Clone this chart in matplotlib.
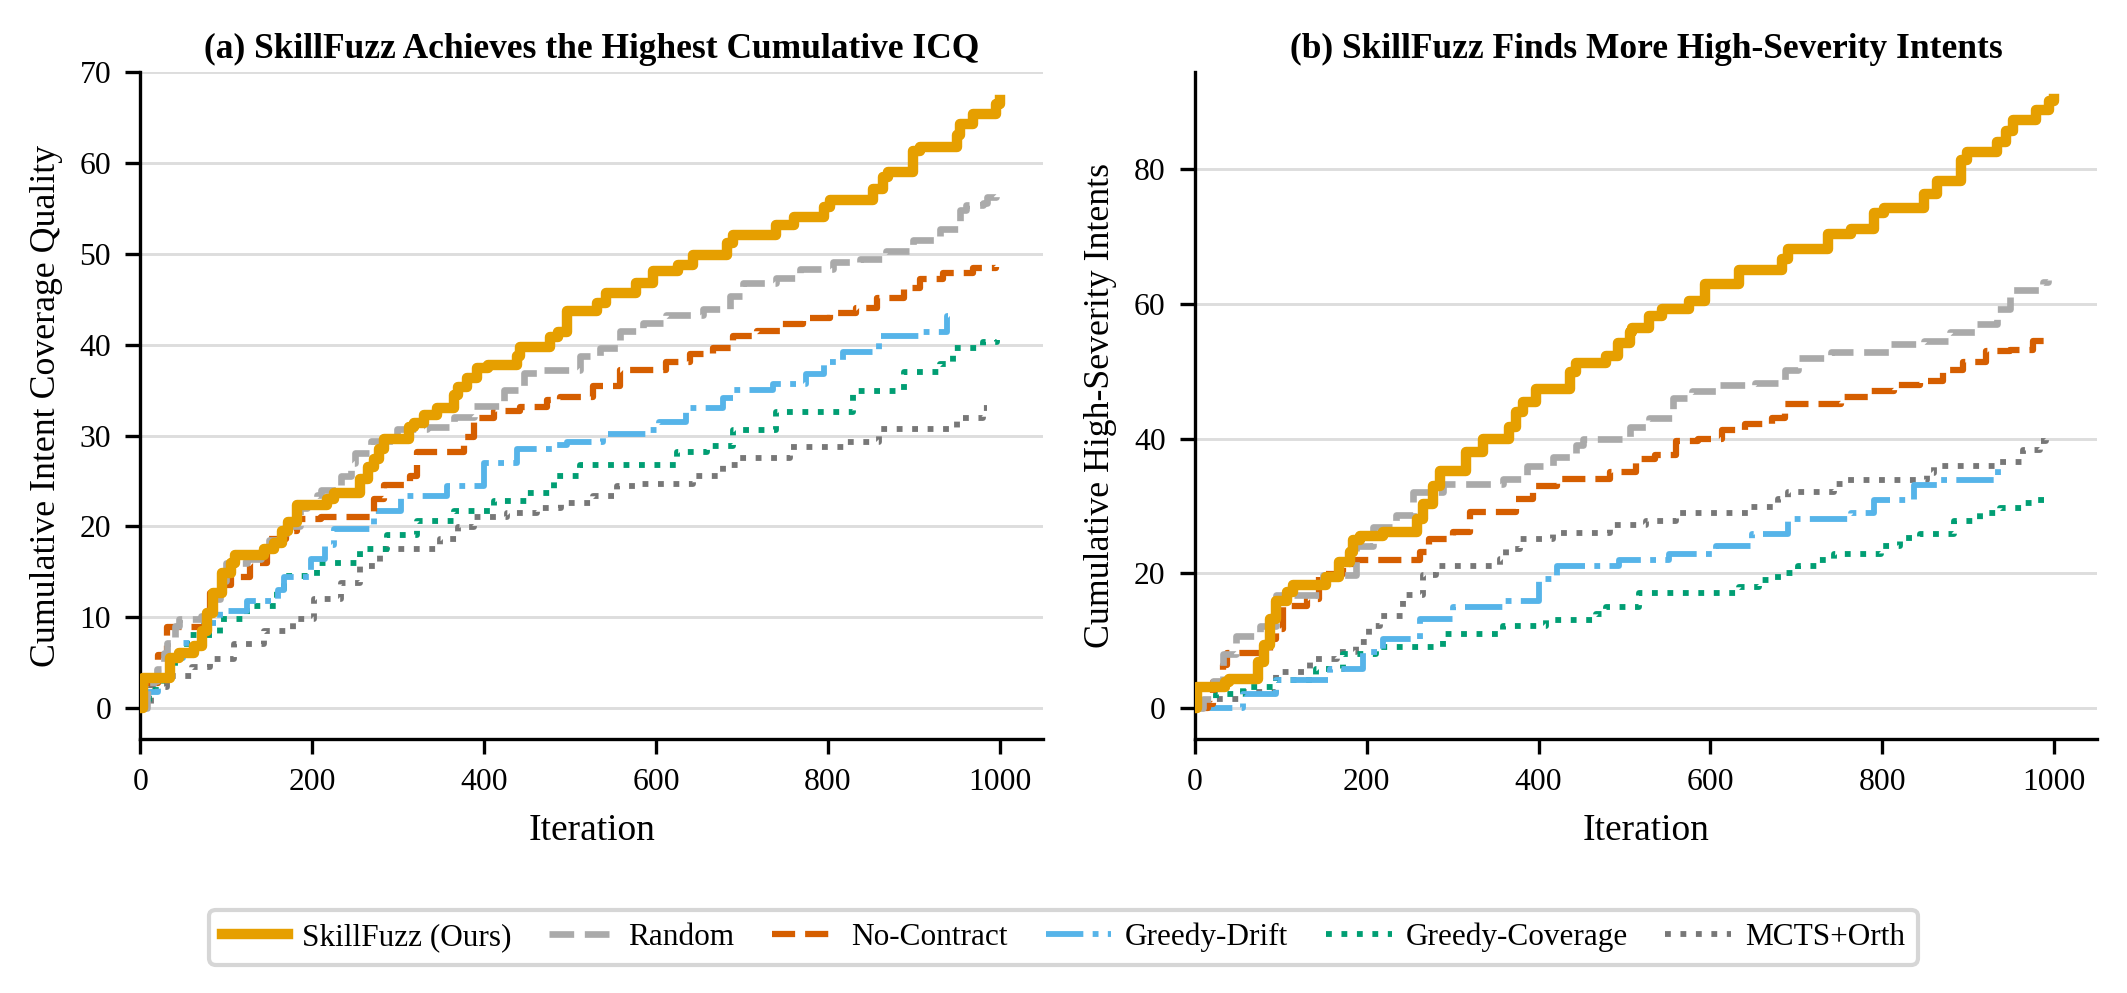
import numpy as np
import matplotlib
matplotlib.use('Agg')
import matplotlib.pyplot as plt

plt.rcParams['font.family'] = ['Liberation Serif', 'DejaVu Serif']

# ---- (a) cumulative ICQ, breakpoints (iteration, value) ----
sf_a_it = [0, 3, 35, 45, 62, 72, 78, 85, 95, 105, 110, 144, 155, 165, 172, 182, 217, 225, 256, 265, 272, 278, 283,
           312, 318, 330, 345, 365, 369, 380, 392, 405, 438, 442, 477, 486, 496, 531, 542, 577, 597, 625, 643, 682,
           690, 740, 760, 795, 802, 853, 864, 870, 899, 907, 950, 954, 969, 996, 1000]
sf_a = [0, 3.3, 5.5, 6.1, 6.8, 8.5, 10.5, 12.7, 14.9, 16.0, 16.8, 17.5, 18.2, 19.5, 20.5, 22.4, 23.0, 23.7, 25.2,
        26.5, 27.4, 28.5, 29.6, 31.0, 31.4, 32.3, 33.0, 34.5, 35.4, 36.3, 37.4, 37.8, 38.8, 39.8, 40.9, 41.4, 43.7,
        44.6, 45.7, 46.8, 48.1, 48.8, 49.9, 51.2, 52.1, 53.2, 54.1, 55.2, 55.9, 57.2, 58.5, 59.0, 61.4, 61.8, 63.1,
        64.3, 65.4, 66.5, 67.0]

rnd_a_it = [0, 8, 15, 19, 28, 31, 40, 45, 70, 78, 93, 100, 124, 140, 150, 170, 186, 194, 205, 210, 233, 245, 250,
            268, 299, 334, 365, 388, 423, 446, 470, 511, 535, 558, 585, 612, 655, 686, 701, 740, 767, 806, 837, 868,
            899, 930, 954, 961, 981, 985, 995]
rnd_a = [0, 1.5, 3.0, 4.3, 6.0, 7.2, 9.0, 9.8, 10.1, 12.0, 14.0, 16.0, 16.4, 17.5, 18.5, 20.0, 22.0, 22.5, 23.5,
         24.0, 25.5, 27.0, 28.1, 29.4, 30.7, 31.0, 32.0, 33.3, 35.0, 36.9, 37.2, 38.8, 39.7, 41.5, 42.4, 43.3, 43.9,
         45.4, 46.8, 47.4, 48.4, 49.1, 49.5, 50.3, 51.6, 52.8, 54.9, 55.4, 55.6, 56.3, 56.5]

nc_a_it = [0, 4, 21, 31, 75, 81, 95, 105, 128, 147, 170, 182, 210, 272, 283, 314, 322, 376, 388, 411, 442, 473, 488,
           527, 558, 612, 639, 666, 690, 717, 744, 771, 802, 833, 857, 888, 907, 934, 969, 995]
nc_a = [0, 2.8, 5.8, 8.9, 9.5, 12.7, 13.5, 14.4, 16.0, 18.6, 19.5, 20.8, 21.0, 23.0, 24.6, 25.5, 28.2, 29.9, 31.9,
        32.7, 33.2, 33.9, 34.2, 35.5, 37.2, 38.1, 39.0, 39.7, 41.0, 41.5, 42.3, 43.0, 43.5, 44.1, 45.2, 46.3, 47.2,
        47.9, 48.5, 48.6]

gd_a_it = [0, 5, 20, 35, 50, 74, 93, 124, 160, 167, 198, 215, 225, 272, 303, 357, 400, 438, 481, 496, 538, 593, 604,
           635, 678, 690, 736, 775, 795, 818, 860, 907, 938, 940]
gd_a = [0, 1.7, 3.5, 5.5, 7.2, 9.4, 10.7, 11.8, 13.0, 14.4, 16.4, 18.0, 19.7, 21.7, 23.3, 24.4, 27.0, 28.5, 29.0,
        29.3, 30.2, 30.6, 31.5, 33.0, 34.1, 35.0, 35.7, 36.8, 38.1, 39.2, 41.0, 41.4, 43.2, 43.2]

gc_a_it = [0, 10, 25, 40, 54, 93, 124, 159, 167, 206, 256, 287, 322, 365, 411, 450, 481, 511, 624, 659, 690, 740, 829,
           888, 930, 946, 981, 997]
gc_a = [0, 2.0, 4.0, 6.0, 8.0, 9.8, 11.2, 13.1, 14.5, 16.0, 17.5, 19.1, 20.6, 21.7, 22.8, 23.7, 25.5, 26.8, 28.2,
        28.9, 30.6, 32.6, 34.9, 37.0, 37.9, 39.7, 40.3, 40.5]

mc_a_it = [0, 12, 31, 60, 81, 109, 144, 178, 202, 233, 256, 279, 349, 369, 388, 427, 462, 489, 527, 554, 577, 643, 678,
           698, 756, 822, 860, 950, 981, 985]
mc_a = [0, 2.3, 3.5, 4.5, 5.4, 7.0, 8.5, 9.8, 12.0, 13.8, 15.6, 17.5, 18.6, 19.9, 21.0, 21.5, 22.0, 22.6, 23.4, 24.4,
        24.7, 25.5, 26.8, 27.5, 28.7, 29.3, 30.7, 31.9, 33.0, 33.0]

# ---- (b) cumulative high-severity intents ----
sf_b_it = [0, 2, 35, 40, 74, 80, 87, 95, 107, 114, 153, 168, 180, 184, 192, 219, 258, 266, 277, 285, 316, 335, 366,
           374, 382, 397, 436, 444, 479, 492, 506, 509, 529, 544, 575, 594, 633, 683, 690, 737, 764, 790, 802, 848,
           864, 891, 898, 933, 944, 952, 979, 994, 1000]
sf_b = [0, 3.1, 3.8, 4.3, 6.8, 9.3, 13.2, 15.9, 17.2, 18.2, 19.4, 21.6, 23.1, 24.9, 25.6, 26.1, 28.1, 30.3, 33.0,
        35.2, 38.0, 40.0, 41.7, 43.9, 45.4, 47.4, 49.9, 51.3, 52.3, 54.2, 55.9, 56.5, 58.2, 59.3, 60.4, 63.0, 65.1,
        66.7, 68.1, 70.4, 71.2, 73.5, 74.3, 76.3, 78.3, 81.4, 82.6, 84.0, 85.7, 87.4, 88.8, 90.2, 90.5]

rnd_b_it = [0, 10, 21, 33, 48, 76, 95, 149, 188, 207, 234, 254, 289, 358, 386, 417, 444, 452, 506, 529, 556, 579, 610,
            652, 687, 702, 740, 810, 848, 879, 910, 933, 948, 987, 993]
rnd_b = [0, 1.3, 4.0, 8.0, 10.7, 12.2, 16.7, 19.7, 24.0, 26.8, 28.6, 32.0, 33.2, 34.0, 36.0, 37.2, 39.0, 40.0, 41.7,
         43.1, 46.0, 47.1, 48.0, 48.2, 50.2, 52.0, 52.9, 54.1, 54.5, 55.9, 57.1, 59.3, 62.1, 63.3, 63.5]

nc_b_it = [0, 15, 21, 33, 37, 87, 95, 103, 130, 145, 172, 188, 262, 273, 300, 320, 374, 393, 421, 483, 513, 536, 560,
           586, 613, 640, 671, 687, 752, 783, 814, 844, 871, 894, 921, 948, 975, 990]
nc_b = [0, 0.6, 3.8, 6.3, 8.2, 10.2, 11.7, 15.2, 16.2, 19.9, 21.4, 22.0, 23.1, 25.1, 26.1, 29.1, 31.0, 33.0, 34.0,
        35.1, 36.9, 37.5, 39.7, 40.0, 41.3, 42.2, 43.1, 45.1, 46.2, 47.1, 48.0, 48.5, 50.2, 51.4, 53.0, 53.2, 54.5,
        54.6]

gd_b_it = [0, 56, 95, 157, 196, 219, 262, 300, 358, 401, 421, 494, 552, 606, 648, 690, 764, 790, 837, 864, 935, 938]
gd_b = [0, 2.1, 4.1, 5.8, 8.3, 10.2, 13.2, 15.0, 15.9, 19.2, 21.0, 22.0, 22.9, 24.0, 25.8, 28.0, 29.0, 30.9, 33.1,
        33.9, 36.3, 36.3]

gc_b_it = [0, 10, 25, 56, 95, 141, 172, 211, 289, 358, 409, 467, 479, 517, 633, 656, 679, 702, 725, 744, 798, 821, 844,
           883, 914, 937, 964, 975, 991]
gc_b = [0, 1.0, 2.1, 3.1, 4.1, 5.8, 8.0, 9.0, 11.0, 12.1, 13.0, 14.0, 15.0, 17.0, 17.9, 19.0, 20.0, 21.0, 21.9, 22.9,
        24.0, 25.3, 25.8, 27.8, 29.0, 29.7, 30.4, 30.9, 31.0]

mc_b_it = [0, 6, 25, 56, 95, 134, 165, 188, 203, 215, 242, 266, 281, 355, 362, 378, 417, 483, 525, 560, 644, 679, 690,
           744, 756, 852, 860, 933, 964, 983, 990]
mc_b = [0, 1.0, 1.3, 2.3, 5.3, 7.3, 8.3, 9.8, 12.2, 13.7, 16.7, 19.7, 21.0, 22.1, 23.6, 25.1, 26.0, 27.1, 27.8, 29.0,
        29.9, 31.0, 32.0, 33.2, 33.9, 34.9, 35.9, 36.6, 38.3, 39.7, 40.0]

names = ['SkillFuzz (Ours)', 'Random', 'No-Contract', 'Greedy-Drift', 'Greedy-Coverage', 'MCTS+Orth']
colors = ['#E69F00', '#AAAAAA', '#D55E00', '#56B4E9', '#009E73', '#777777']
styles = ['-', '--', '--', '-.', ':', ':']
widths = [2.5, 1.6, 1.5, 1.4, 1.4, 1.4]

series_a = [(sf_a_it, sf_a), (rnd_a_it, rnd_a), (nc_a_it, nc_a), (gd_a_it, gd_a), (gc_a_it, gc_a), (mc_a_it, mc_a)]
series_b = [(sf_b_it, sf_b), (rnd_b_it, rnd_b), (nc_b_it, nc_b), (gd_b_it, gd_b), (gc_b_it, gc_b), (mc_b_it, mc_b)]

fig, axes = plt.subplots(1, 2, figsize=(2127/300, 993/300), dpi=300)
fig.subplots_adjust(left=0.066, right=0.986, top=0.927, bottom=0.256, wspace=0.1685)

titles = ['(a) SkillFuzz Achieves the Highest Cumulative ICQ', '(b) SkillFuzz Finds More High-Severity Intents']
ylabels = ['Cumulative Intent Coverage Quality', 'Cumulative High-Severity Intents']

for ax, series, title, ylab in zip(axes, [series_a, series_b], titles, ylabels):
    # draw the baselines first so SkillFuzz sits on top
    for i in [5, 4, 3, 2, 1, 0]:
        it, val = series[i]
        ax.plot(it, val, drawstyle='steps-post', color=colors[i], linestyle=styles[i],
                linewidth=widths[i], label=names[i], zorder=3 + (6 - i))
    ax.set_title(title, fontsize=8.5, fontweight='bold', pad=3.5)
    ax.set_xlabel('Iteration', fontsize=9)
    ax.set_ylabel(ylab, fontsize=8.6)
    ax.set_xlim(left=0)
    ax.set_xticks([0, 200, 400, 600, 800, 1000])
    ax.tick_params(labelsize=7.6, width=0.8, length=3.5)
    ax.grid(axis='y', color='#DDDDDD', linewidth=0.7)
    ax.set_axisbelow(True)
    for s in ['top', 'right']:
        ax.spines[s].set_visible(False)
    for s in ['left', 'bottom']:
        ax.spines[s].set_linewidth(0.8)

axes[0].set_ylim(-3.4, 70.0)
axes[0].set_yticks(np.arange(0, 71, 10))
axes[1].set_ylim(-4.6, 94.4)
axes[1].set_yticks([0, 20, 40, 60, 80])

handles, labels = axes[0].get_legend_handles_labels()
order = [labels.index(n) for n in names]
fig.legend([handles[k] for k in order], names, loc='center', bbox_to_anchor=(0.5, 0.056), ncol=6,
           fontsize=7.5, frameon=True, fancybox=True, edgecolor='#CCCCCC', handlelength=2.1,
           handletextpad=0.45, columnspacing=1.2)

plt.savefig('out.png', dpi=300)
